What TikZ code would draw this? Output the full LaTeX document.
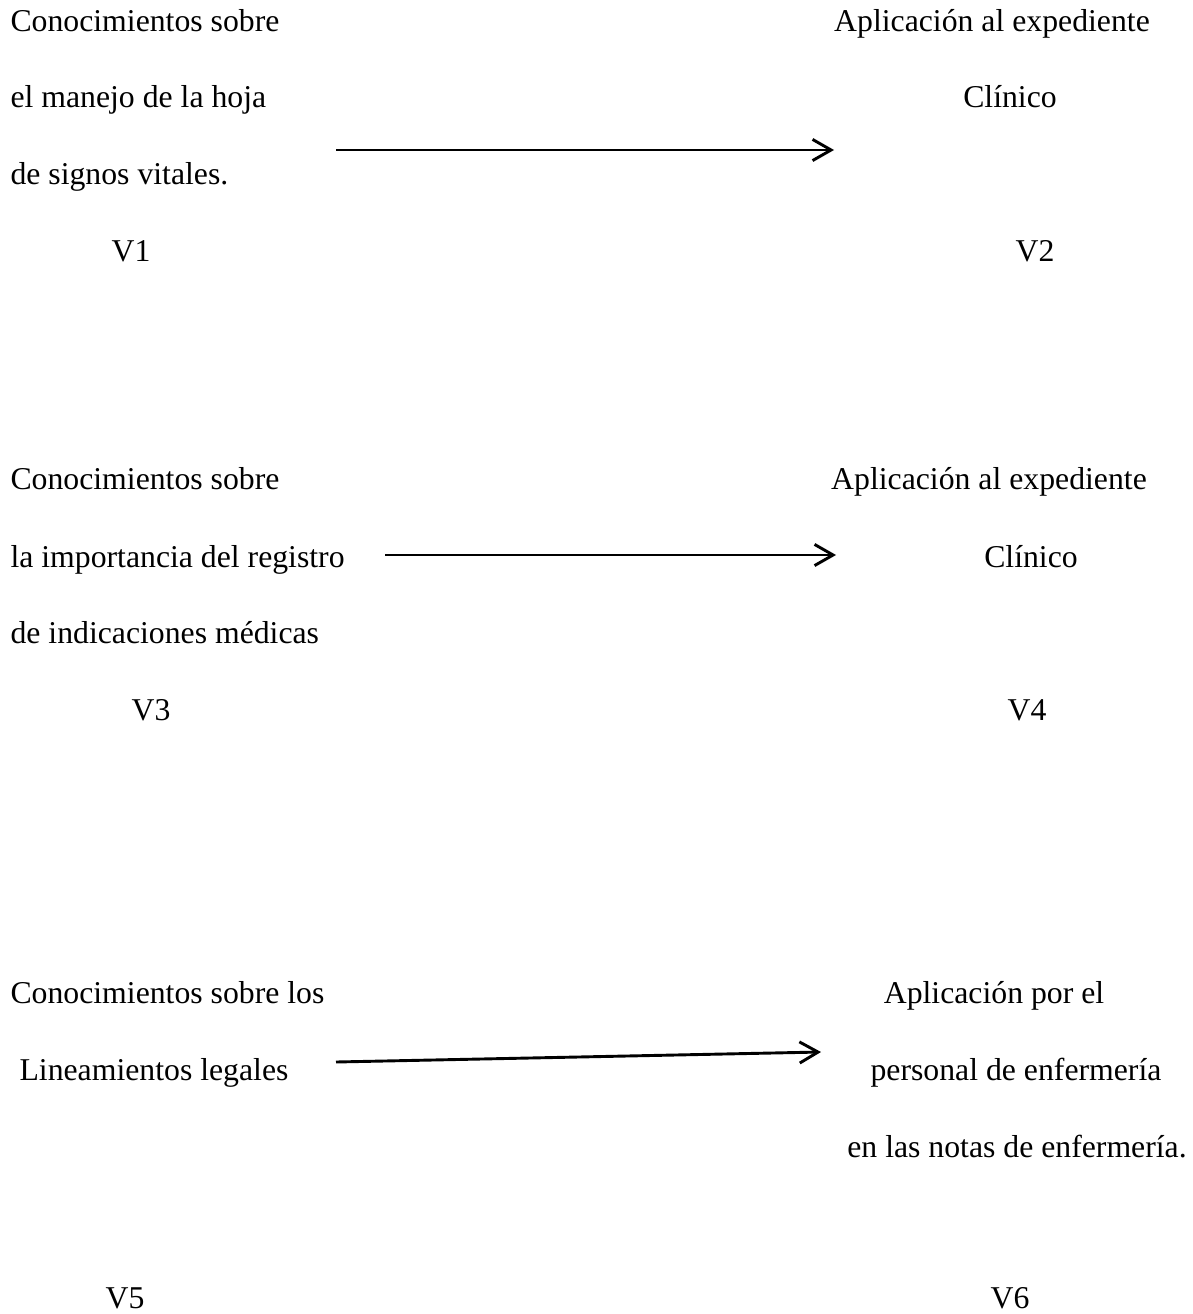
\documentclass[tikz,border=0pt]{standalone}
\usepackage{fontspec}
\setmainfont{Liberation Serif}
\usetikzlibrary{arrows.meta}
\tikzset{
  txt/.style={font=\fontsize{12}{14}\selectfont,inner sep=0pt,anchor=base},
  lft/.style={txt,anchor=base west},
  flecha/.style={-{Straight Barb[length=7pt,width=8pt]},line width=1.1pt}
}
\begin{document}
\begin{tikzpicture}[x=0.378pt,y=-0.378pt]
\useasboundingbox (0,0) rectangle (1192,1314);
% primer bloque
\node[lft] (c1a) at (10,32) {Conocimientos sobre};
\node[lft] (c1b) at (10,108) {el manejo de la hoja};
\node[lft] (c1c) at (10,185) {de signos vitales.};
\node[txt] (v1) at (131,262) {V1};
\node[txt] (a1a) at (992,32) {Aplicación al expediente};
\node[txt] (a1b) at (1010,108) {Clínico};
\node[txt] (v2) at (1035,262) {V2};
\coordinate (p1) at (336,150);
\coordinate (q1) at (834,150);
\draw[flecha] (p1)--(q1);
% segundo bloque
\node[lft] (c2a) at (10,490) {Conocimientos sobre};
\node[lft] (c2b) at (10,567) {la importancia del registro};
\node[lft] (c2c) at (10,643) {de indicaciones médicas};
\node[txt] (v3) at (151,720) {V3};
\node[txt] (a2a) at (989,490) {Aplicación al expediente};
\node[txt] (a2b) at (1031,567) {Clínico};
\node[txt] (v4) at (1027,720) {V4};
\coordinate (p2) at (385,555);
\coordinate (q2) at (836,555);
\draw[flecha] (p2)--(q2);
% tercer bloque
\node[lft] (c3a) at (10,1003) {Conocimientos sobre los};
\node[lft] (c3b) at (19,1080) {Lineamientos legales};
\node[txt] (v5) at (125,1308) {V5};
\node[txt] (a3a) at (994,1003) {Aplicación por el};
\node[txt] (a3b) at (1016,1080) {personal de enfermería};
\node[txt] (a3c) at (1017,1157) {en las notas de enfermería.};
\node[txt] (v6) at (1010,1308) {V6};
\coordinate (p3) at (336,1062);
\coordinate (q3) at (821,1052);
\draw[flecha] (p3)--(q3);
\end{tikzpicture}
\end{document}
